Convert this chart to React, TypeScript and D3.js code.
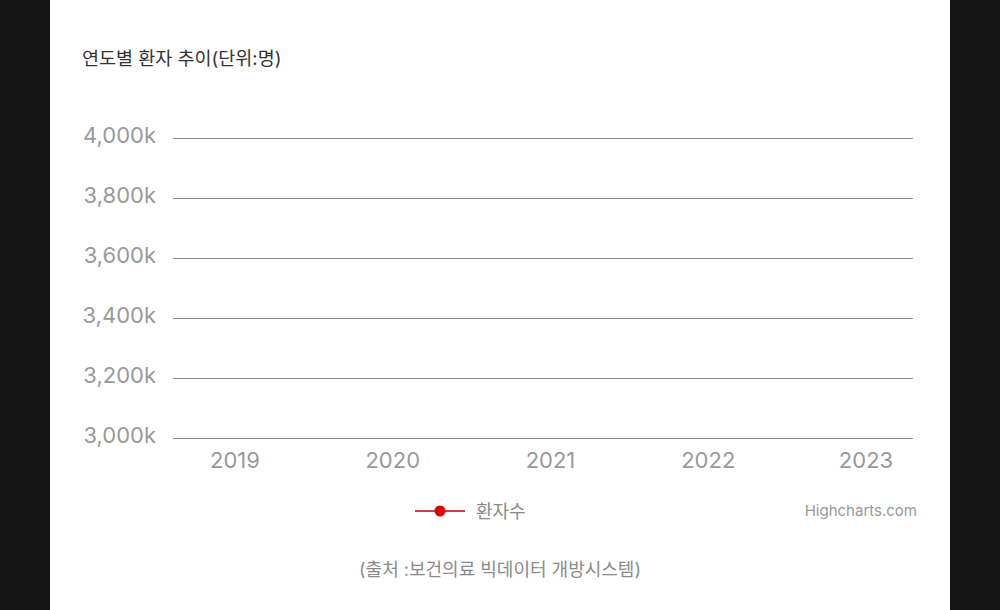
import React, { useEffect, useRef } from "react";
import * as d3 from "d3";

const years: string[] = ["2019", "2020", "2021", "2022", "2023"];
// Series values are not visible in the reference (plotted outside the visible axis range)
const patients: (number | null)[] = [null, null, null, null, null];
const yTicks: number[] = [3000000, 3200000, 3400000, 3600000, 3800000, 4000000];

const W = 1000;
const H = 610;
const FONT = "Inter, 'Noto Sans CJK KR', 'Noto Sans', sans-serif";

export default function App() {
  const ref = useRef<SVGSVGElement | null>(null);

  useEffect(() => {
    const svg = d3.select(ref.current);
    svg.selectAll("*").remove();

    svg.append("rect").attr("width", W).attr("height", H).attr("fill", "#151414");
    svg.append("rect").attr("x", 50).attr("y", 0).attr("width", 900).attr("height", H).attr("fill", "#ffffff");

    svg.append("text")
      .attr("x", 82).attr("y", 65)
      .attr("font-family", FONT).attr("font-size", 18.5)
      .attr("fill", "#333333")
      .text("연도별 환자 추이(단위:명)");

    const x = d3.scalePoint<string>().domain(years).range([235, 866]);
    const y = d3.scaleLinear().domain([3000000, 4000000]).range([438, 138]);

    const grid = svg.append("g");
    grid.selectAll("line").data(yTicks).join("line")
      .attr("x1", 173).attr("x2", 913)
      .attr("y1", (d) => y(d) + 0.5).attr("y2", (d) => y(d) + 0.5)
      .attr("stroke", "#8c8c8c").attr("stroke-width", 1);

    const fmt = d3.format(",");
    svg.append("g").selectAll("text").data(yTicks).join("text")
      .attr("x", 156).attr("y", (d) => y(d) + 5)
      .attr("text-anchor", "end")
      .attr("font-family", FONT).attr("font-size", 22)
      .attr("fill", "#999999")
      .text((d) => fmt(d / 1000) + "k");

    svg.append("g").selectAll("text").data(years).join("text")
      .attr("x", (d) => x(d) as number).attr("y", 468)
      .attr("text-anchor", "middle")
      .attr("font-family", FONT).attr("font-size", 22)
      .attr("fill", "#999999")
      .text((d) => d);

    const line = d3.line<number | null>()
      .defined((d) => d !== null && d >= 3000000 && d <= 4000000)
      .x((_, i) => x(years[i]) as number)
      .y((d) => y(d as number));
    svg.append("path").datum(patients)
      .attr("d", line)
      .attr("fill", "none").attr("stroke", "#b80000").attr("stroke-width", 1.5);

    // legend
    const lg = svg.append("g");
    lg.append("line").attr("x1", 415).attr("x2", 465).attr("y1", 511).attr("y2", 511)
      .attr("stroke", "#b50000").attr("stroke-width", 1.5);
    lg.append("circle").attr("cx", 440).attr("cy", 511).attr("r", 5.5).attr("fill", "#e00000");
    lg.append("text").attr("x", 476).attr("y", 518)
      .attr("font-family", FONT).attr("font-size", 18).attr("fill", "#8a8a8a")
      .text("환자수");

    svg.append("text").attr("x", 917).attr("y", 516)
      .attr("text-anchor", "end")
      .attr("font-family", FONT).attr("font-size", 15).attr("fill", "#999999")
      .text("Highcharts.com");

    svg.append("text").attr("x", 500).attr("y", 576)
      .attr("text-anchor", "middle")
      .attr("font-family", FONT).attr("font-size", 18).attr("fill", "#8a8a8a")
      .text("(출처 :보건의료 빅데이터 개방시스템)");
  }, []);

  return (
    <svg
      ref={ref}
      width={W}
      height={H}
      style={{ position: "fixed", left: 0, top: 0, display: "block" }}
    />
  );
}
